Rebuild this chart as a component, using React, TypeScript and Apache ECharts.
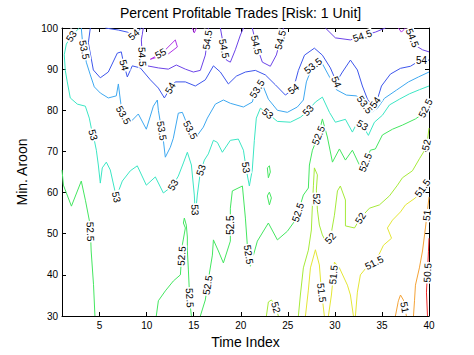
import React, { useEffect, useRef } from "react";
import * as echarts from "echarts";

type Pt = [number, number];

const chartTitle = "Percent Profitable Trades [Risk: 1 Unit]";
const xAxisName = "Time Index";
const yAxisName = "Min. Aroon";
const xRange = [1, 40];
const yRange = [30, 100];
const xTicks = [5, 10, 15, 20, 25, 30, 35, 40];
const yTicks = [30, 40, 50, 60, 70, 80, 90, 100];
const levels = [50.5, 51, 51.5, 52, 52.5, 53, 53.5, 54, 54.5, 55];
const levelColors = ["#ee2626", "#f4a236", "#e4e636", "#a6ea3a", "#44e660", "#3ce6c4", "#3ea8f0", "#3e56ec", "#6c44e8", "#b034e6"];

// contour lines, in (Time Index, Min. Aroon) units
const c505a: Pt[] = [[40, 48.9], [39.94, 45.6], [39.84, 40.7], [39.73, 35.8], [39.84, 30]];
const c51a: Pt[] = [[40, 58.9], [39.84, 55.8], [39.62, 51.4], [39.31, 45.8], [38.98, 41.7], [38.56, 37.5], [38.46, 33.7], [38.35, 30]];
const c51b: Pt[] = [[36.43, 30], [36.75, 33.7], [36.97, 35.1], [37.28, 33.9], [37.6, 30]];
const c515a: Pt[] = [[26.87, 30], [27.18, 36.3], [27.4, 41.7], [27.93, 46.1], [28.35, 42.4], [28.56, 36.3], [28.88, 30]];
const c515b: Pt[] = [[29.31, 30], [29.63, 35.1], [29.84, 40.0], [29.95, 43.1], [30.48, 41.7], [31.33, 37.5], [31.65, 35.1], [31.97, 30]];
const c515c: Pt[] = [[32.18, 30], [32.39, 35.8], [32.71, 40.0], [33.46, 42.1], [34.3, 43.1], [35.16, 47.2], [36.02, 48.9], [35.58, 51.4], [36.12, 53.3], [36.97, 55.3], [37.5, 57.0], [38.56, 58.7], [39.31, 61.1], [40, 62.8]];
const c52a: Pt[] = [[26.12, 30], [26.33, 35.1], [26.65, 41.7], [27.18, 46.0], [27.5, 50.9], [27.61, 57.0], [27.72, 61.8], [27.82, 66.0], [28.14, 64.3], [28.03, 60.6], [28.14, 55.8], [28.35, 52.1], [28.67, 49.7], [29.1, 47.8], [29.52, 48.9], [29.95, 54.5], [30.27, 60.4], [30.58, 61.6], [31.12, 58.2], [31.12, 51.9], [32.08, 51.4], [32.71, 53.8], [33.67, 56.2], [34.73, 57.0], [35.8, 59.2], [36.65, 61.8], [37.18, 63.6], [38.24, 65.3], [38.98, 68.2], [39.62, 70.6], [39.84, 72.8], [40, 75.7]];
const c52b: Pt[] = [[22.72, 30], [22.93, 33.4], [23.25, 33.9], [23.67, 32.5], [23.99, 30]];
const c525a: Pt[] = [[1, 65.5], [1.15, 61.8], [2.0, 56.7], [3.05, 62.8], [3.5, 58.0], [4.0, 52.1], [4.1, 45.8], [4.35, 37.6], [4.5, 30]];
const c525b: Pt[] = [[11.02, 30], [11.24, 33.7], [11.98, 36.1], [12.83, 38.5], [13.58, 40.0], [13.68, 43.4], [13.79, 47.3], [14.11, 51.4], [13.9, 52.6], [14.0, 53.8], [14.21, 52.1], [14.32, 49.2], [14.32, 46.0], [14.43, 41.2], [14.53, 36.3], [14.64, 32.2], [14.75, 30]];
const c525c: Pt[] = [[15.7, 30], [16.23, 33.9], [16.55, 38.8], [16.98, 44.8], [17.09, 48.5], [17.62, 45.8], [18.15, 42.9], [18.89, 48.2], [18.89, 52.1], [18.89, 56.2], [19.1, 60.4], [20.17, 61.6], [20.49, 53.8], [20.7, 47.0], [21.02, 42.1], [21.76, 48.2], [22.93, 52.6], [23.89, 48.5], [24.95, 50.6], [25.8, 53.3], [26.33, 57.0], [26.65, 59.4], [27.18, 61.1], [27.29, 66.7], [27.61, 70.3], [28.25, 73.9], [28.67, 77.9], [29.2, 73.5], [29.74, 67.4], [30.48, 70.6], [31.12, 67.9], [31.86, 70.3], [32.5, 67.2], [32.92, 65.5], [33.35, 67.9], [33.77, 70.3], [34.3, 70.6], [35.05, 74.0], [36.12, 75.4], [37.18, 76.4], [38.56, 77.9], [39.31, 79.1], [39.73, 81.0], [40, 82.5]];
const c525d: Pt[] = [[22.82, 59.2], [23.04, 60.1], [23.25, 58.7], [23.04, 57.0], [22.82, 59.2]];
const c525e: Pt[] = [[22.82, 66.0], [23.04, 66.5], [23.14, 65.0], [22.93, 63.6], [22.82, 66.0]];
const c53a: Pt[] = [[2.84, 100], [2.09, 98.3], [1.46, 96.1], [1.24, 93.5], [1.35, 89.7], [1.56, 86.9], [1.88, 83.0], [2.63, 81.5], [3.48, 81.0], [3.9, 78.1], [4.11, 75.7], [4.33, 73.9], [4.65, 70.3], [4.86, 66.7], [5.07, 62.3], [5.28, 66.0], [5.71, 67.4], [6.13, 65.5], [6.77, 58.9], [7.41, 62.8], [8.26, 65.3], [9.0, 66.5], [9.96, 61.8], [10.92, 63.8], [11.77, 59.9], [12.73, 61.6], [13.36, 64.0], [13.9, 67.2], [14.32, 69.8], [14.75, 66.7], [15.06, 59.4], [15.17, 54.5], [15.38, 59.4], [15.7, 65.0], [16.13, 67.9], [16.55, 69.4], [17.09, 72.7], [17.51, 72.2], [18.04, 69.8], [18.89, 72.7], [19.74, 73.0], [20.28, 70.3], [20.59, 65.5], [20.91, 61.6], [21.22, 65.5], [21.44, 72.7], [21.65, 78.1], [22.08, 80.5], [22.72, 79.5], [23.89, 77.3], [25.27, 77.1], [26.33, 78.3], [26.97, 79.5], [27.93, 82.0], [28.67, 83.2], [29.42, 79.5], [30.05, 77.1], [31.12, 77.8], [31.86, 74.7], [32.39, 77.1], [32.92, 76.4], [33.56, 73.9], [34.2, 77.1], [35.05, 78.8], [35.8, 81.3], [36.86, 82.7], [37.92, 84.0], [38.98, 85.0], [40, 85.9]];
const c535a: Pt[] = [[3.05, 100], [3.16, 97.1], [3.37, 94.7], [3.58, 91.7], [4.01, 88.6], [4.43, 85.7], [5.07, 84.2], [5.92, 83.0], [6.77, 83.5], [6.99, 86.4], [7.2, 82.5], [7.41, 79.3], [7.84, 77.6], [8.26, 77.1], [9.11, 79.1], [9.96, 75.4], [10.71, 81.0], [11.13, 82.5], [11.24, 80.0], [11.56, 75.6], [11.77, 72.7], [11.98, 68.6], [12.51, 71.0], [12.83, 73.2], [13.36, 79.3], [13.79, 79.5], [14.21, 77.1], [14.64, 75.2], [15.38, 73.9], [16.02, 75.9], [16.45, 78.1], [17.3, 81.5], [18.15, 82.5], [18.89, 81.7], [20.28, 80.8], [21.22, 82.0], [21.55, 84.5], [22.19, 86.9], [22.93, 82.7], [23.89, 80.0], [24.95, 79.5], [26.01, 80.8], [26.65, 82.5], [26.97, 86.9], [27.61, 90.7], [28.46, 92.2], [29.31, 88.6], [30.16, 85.0], [31.22, 83.7], [32.28, 83.5], [32.92, 82.2], [33.35, 80.8], [33.88, 79.5], [34.52, 80.5], [35.26, 82.9], [36.54, 84.9], [37.82, 86.9], [38.88, 88.1], [40, 89.3]];
const c54a: Pt[] = [[4.01, 100], [3.8, 96.4], [4.33, 89.8], [5.07, 87.9], [5.92, 89.3], [6.88, 93.9], [7.3, 94.2], [7.52, 91.7], [7.94, 88.1], [8.47, 90.8], [9.32, 90.3], [10.39, 87.4], [11.24, 85.4], [11.88, 83.0], [12.51, 85.4], [13.04, 86.9], [14.11, 86.9], [15.17, 85.9], [16.23, 87.4], [17.09, 90.8], [17.83, 89.3], [18.68, 86.4], [19.53, 88.3], [20.49, 89.3], [21.55, 89.7], [22.61, 88.6], [23.67, 86.2], [24.74, 83.7], [25.59, 85.2], [26.12, 89.7], [26.77, 93.4], [27.82, 95.1], [28.67, 93.4], [29.52, 90.3], [30.16, 86.9], [30.8, 89.3], [31.65, 92.2], [32.39, 89.8], [32.92, 85.9], [33.46, 82.7], [33.99, 81.0], [34.52, 82.7], [34.95, 85.9], [35.9, 88.8], [36.97, 90.2], [38.03, 90.7], [39.09, 92.2], [40, 92.2]];
const c54b: Pt[] = [[5.61, 100], [6.99, 99.5], [7.94, 99.0], [8.58, 98.3], [9.11, 99.3], [9.43, 100]];
const c545a: Pt[] = [[9.64, 100], [9.43, 97.1], [9.54, 93.0], [10.07, 90.8], [11.24, 90.3], [12.3, 90.0], [13.15, 91.0], [14.11, 90.0], [14.96, 89.3], [15.7, 89.7], [16.23, 93.4], [16.45, 97.1], [16.55, 100]];
const c545b: Pt[] = [[17.83, 100], [18.15, 95.9], [18.47, 92.2], [18.89, 91.7], [19.42, 94.7], [19.96, 98.3], [20.28, 100]];
const c545c: Pt[] = [[21.22, 100], [21.65, 95.9], [22.29, 91.7], [23.14, 90.7], [23.78, 93.45], [24.21, 97.1], [24.53, 100]];
const c545d: Pt[] = [[28.99, 100], [30.05, 97.6], [31.65, 97.1], [32.92, 98.1], [34.3, 99.0], [35.37, 100]];
const c545e: Pt[] = [[37.82, 100], [38.24, 97.6], [38.67, 95.6], [39.31, 94.7], [40, 94.2]];
const c55a: Pt[] = [[10.39, 92.4], [11.77, 94.2], [13.04, 97.1], [13.26, 95.4], [12.3, 93.7], [11.24, 93.0], [10.39, 92.4]];
const c55b: Pt[] = [[14.85, 100], [15.06, 98.8], [15.28, 100]];
const c55c: Pt[] = [[36.75, 100], [37.07, 99.0], [37.5, 100]];

const contours: { level: number; pts: Pt[] }[] = [
  { level: 50.5, pts: c505a },
  { level: 51, pts: c51a }, { level: 51, pts: c51b },
  { level: 51.5, pts: c515a }, { level: 51.5, pts: c515b }, { level: 51.5, pts: c515c },
  { level: 52, pts: c52a }, { level: 52, pts: c52b },
  { level: 52.5, pts: c525a }, { level: 52.5, pts: c525b }, { level: 52.5, pts: c525c }, { level: 52.5, pts: c525d }, { level: 52.5, pts: c525e },
  { level: 53, pts: c53a },
  { level: 53.5, pts: c535a },
  { level: 54, pts: c54a }, { level: 54, pts: c54b },
  { level: 54.5, pts: c545a }, { level: 54.5, pts: c545b }, { level: 54.5, pts: c545c }, { level: 54.5, pts: c545d }, { level: 54.5, pts: c545e },
  { level: 55, pts: c55a }, { level: 55, pts: c55b }, { level: 55, pts: c55c },
];

// contour labels: [time index, min aroon, level]
const contourLabels: [number, number, number][] = [
  [4.0, 50.5, 52.5], [13.58, 44.6, 52.5], [14.43, 34.4, 52.5], [16.55, 37.5, 52.5], [18.89, 52.1, 52.5], [20.49, 44.8, 52.5], [26.33, 55.0, 52.5], [28.25, 73.9, 52.5], [33.14, 67.4, 52.5], [39.62, 80.5, 52.5],
  [27.96, 58.4, 52], [29.52, 48.9, 52], [32.71, 53.8, 52], [39.62, 71.6, 52], [23.46, 31.9, 52],
  [28.46, 35.6, 51.5], [29.84, 40.0, 51.5], [34.3, 42.4, 51.5], [39.31, 61.1, 51.5],
  [39.62, 54.5, 51], [37.18, 32.0, 51],
  [39.94, 40.5, 50.5],
  [2.0, 98.0, 53], [4.11, 73.9, 53], [6.67, 58.2, 53], [12.83, 61.8, 53], [15.17, 55.8, 53], [15.7, 65.5, 53], [20.28, 66.0, 53], [22.82, 79.1, 53], [27.4, 79.5, 53], [32.92, 76.4, 53],
  [3.37, 94.7, 53.5], [7.52, 78.8, 53.5], [11.56, 75.0, 53.5], [14.64, 75.2, 53.5], [21.76, 85.2, 53.5], [27.61, 91.0, 53.5], [33.14, 81.3, 53.5],
  [7.63, 91.0, 54], [12.51, 85.4, 54], [25.59, 85.2, 54], [30.05, 86.6, 54], [34.2, 82.0, 54], [39.2, 92.2, 54], [8.58, 98.5, 54],
  [9.54, 93.0, 54.5], [16.45, 97.1, 54.5], [18.3, 95.0, 54.5], [21.65, 95.9, 54.5], [24.21, 97.1, 54.5], [32.92, 98.1, 54.5], [38.24, 97.6, 54.5],
  [11.45, 93.9, 55],
];

const FONT = '"Liberation Sans", Arial, Helvetica, sans-serif';

function colorOf(level: number): string {
  return levelColors[levels.indexOf(level)] || "#000";
}

function buildOption(): echarts.EChartsCoreOption {
  const axisLine = { show: true, onZero: false, lineStyle: { color: "#000", width: 1 } };
  const tickStyle = { color: "#000", width: 1 };
  const lineSeries = contours.map((c) => ({
    type: "line",
    data: c.pts,
    showSymbol: false,
    symbol: "none",
    silent: true,
    clip: true,
    z: 2,
    lineStyle: { color: colorOf(c.level), width: 1 },
  }));
  const labelSeries = {
    type: "custom",
    data: contourLabels,
    z: 5,
    silent: true,
    clip: false,
    renderItem: (_params: any, api: any) => {
      const lx = api.value(0);
      const ly = api.value(1);
      const lv = api.value(2);
      const p = api.coord([lx, ly]);
      let best = Infinity;
      let ang = 0;
      let pos = p;
      for (const c of contours) {
        if (c.level !== lv) continue;
        for (let i = 0; i < c.pts.length - 1; i++) {
          const a = api.coord(c.pts[i]);
          const b = api.coord(c.pts[i + 1]);
          const dx = b[0] - a[0];
          const dy = b[1] - a[1];
          const len2 = dx * dx + dy * dy || 1;
          let t = ((p[0] - a[0]) * dx + (p[1] - a[1]) * dy) / len2;
          t = Math.max(0, Math.min(1, t));
          const qx = a[0] + t * dx;
          const qy = a[1] + t * dy;
          const d = (qx - p[0]) ** 2 + (qy - p[1]) ** 2;
          if (d < best) {
            best = d;
            pos = [qx, qy];
            ang = Math.atan2(-dy, dx);
          }
        }
      }
      if (ang > Math.PI / 2) ang -= Math.PI;
      if (ang < -Math.PI / 2) ang += Math.PI;
      return {
        type: "text",
        x: pos[0],
        y: pos[1],
        rotation: ang,
        style: {
          text: String(lv),
          fill: "#000",
          font: `10px ${FONT}`,
          align: "center",
          verticalAlign: "middle",
          backgroundColor: "#fff",
          padding: [0, 1],
        },
      };
    },
  };

  return {
    animation: false,
    backgroundColor: "#fff",
    title: {
      text: chartTitle,
      left: 120,
      top: 6,
      padding: 0,
      textStyle: { fontFamily: FONT, fontSize: 14, fontWeight: "normal", color: "#000" },
    },
    grid: { left: 62, right: 45, top: 28, bottom: 39, containLabel: false },
    xAxis: [
      {
        type: "value",
        min: xRange[0],
        max: xRange[1],
        position: "bottom",
        name: xAxisName,
        nameLocation: "middle",
        nameGap: 18,
        nameTextStyle: { fontFamily: FONT, fontSize: 14, color: "#000", verticalAlign: "top" },
        axisLine,
        axisTick: { show: true, inside: true, length: 4, lineStyle: tickStyle, customValues: xTicks },
        axisLabel: { show: true, margin: 4, fontFamily: FONT, fontSize: 10, color: "#000", customValues: xTicks },
        splitLine: { show: false },
      },
      {
        type: "value",
        min: xRange[0],
        max: xRange[1],
        position: "top",
        axisLine,
        axisTick: { show: true, inside: true, length: 4, lineStyle: tickStyle, customValues: xTicks },
        axisLabel: { show: false },
        splitLine: { show: false },
      },
    ],
    yAxis: [
      {
        type: "value",
        min: yRange[0],
        max: yRange[1],
        interval: 10,
        position: "left",
        name: yAxisName,
        nameLocation: "middle",
        nameGap: 33,
        nameRotate: 90,
        nameTextStyle: { fontFamily: FONT, fontSize: 14, color: "#000" },
        axisLine,
        axisTick: { show: true, inside: true, length: 4, lineStyle: tickStyle, customValues: yTicks },
        axisLabel: { show: true, margin: 4, fontFamily: FONT, fontSize: 10, color: "#000", customValues: yTicks },
        splitLine: { show: false },
      },
      {
        type: "value",
        min: yRange[0],
        max: yRange[1],
        interval: 10,
        position: "right",
        axisLine,
        axisTick: { show: true, inside: true, length: 4, lineStyle: tickStyle, customValues: yTicks },
        axisLabel: { show: false },
        splitLine: { show: false },
      },
    ],
    series: [...lineSeries, labelSeries],
  };
}

export default function App() {
  const ref = useRef<HTMLDivElement>(null);
  useEffect(() => {
    if (!ref.current) return;
    const chart = echarts.init(ref.current, null, { renderer: "svg" });
    chart.setOption(buildOption() as any);
    return () => chart.dispose();
  }, []);
  return (
    <div
      ref={ref}
      style={{ position: "fixed", left: 0, top: 0, width: 474, height: 355, background: "#fff" }}
    />
  );
}
